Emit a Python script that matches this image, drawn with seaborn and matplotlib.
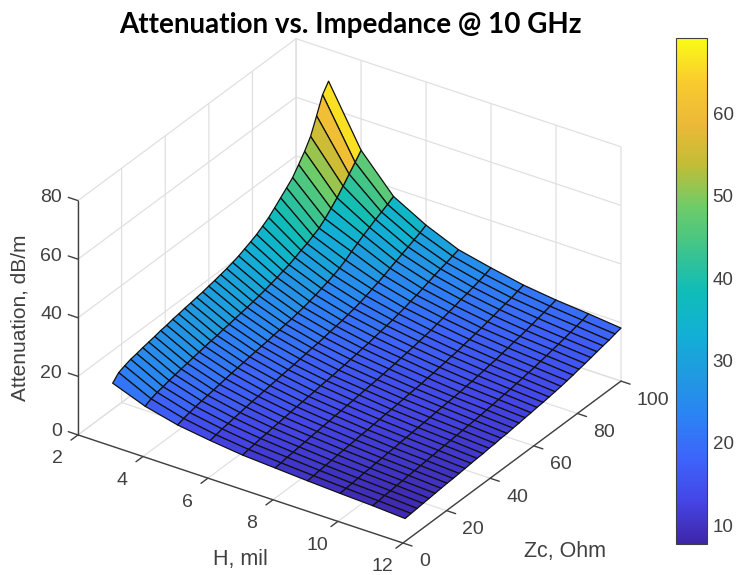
import numpy as np
import seaborn as sns
import matplotlib
matplotlib.use('Agg')
import matplotlib.pyplot as plt
from matplotlib.colors import Normalize
from matplotlib.cm import ScalarMappable
from mpl_toolkits.mplot3d import proj3d

# Grid
h_mil = [3, 4, 5, 6, 7, 8, 9, 10, 11, 12]
zc_ohm = [1, 3.75, 6.5, 9.25, 12, 14.75, 17.5, 20.25, 23, 25.75, 28.5, 31.25, 34, 36.75, 39.5, 42.25, 45, 47.75, 50.5,
          53.25, 56, 58.75, 61.5, 64.25, 67, 69.75, 72.5, 75.25, 78, 80.75, 83.5, 86.25, 89, 91.75, 94.5, 97.25, 100]

# Attenuation along each H line, going up in Zc
att_h3 = [20.8, 22.9, 23.7, 24.4, 24.8, 25.3, 25.7, 26.1, 26.6, 26.9, 27.4, 27.7, 28.1, 28.4, 28.8, 29.1, 29.6, 30.0, 30.5,
          31.0, 31.6, 32.3, 33.2, 34.1, 35.1, 36.4, 37.8, 39.6, 41.5, 43.4, 45.4, 48.3, 51.3, 54.9, 60.4, 66.1, 69.2]
att_h4 = [16.6, 17.6, 18.3, 18.7, 19.3, 19.7, 20.2, 20.6, 21.0, 21.4, 21.8, 22.2, 22.5, 23.0, 23.3, 23.7, 24.1, 24.5, 24.9,
          25.4, 25.9, 26.5, 27.1, 27.8, 28.4, 29.3, 30.3, 31.1, 32.2, 33.3, 35.0, 37.0, 39.1, 41.6, 44.2, 46.7, 49.3]
att_h5 = [13.9, 14.6, 15.1, 15.6, 16.0, 16.4, 16.7, 17.1, 17.5, 17.9, 18.2, 18.5, 18.9, 19.2, 19.5, 19.8, 20.2, 20.5, 20.9,
          21.2, 21.7, 22.1, 22.7, 23.3, 24.0, 24.7, 25.5, 26.4, 27.6, 29.0, 30.3, 31.6, 32.7, 33.9, 34.9, 36.0, 37.2]
att_h6 = [12.3, 12.7, 13.2, 13.5, 13.9, 14.2, 14.6, 14.9, 15.2, 15.5, 15.8, 16.1, 16.4, 16.7, 16.9, 17.3, 17.6, 18.0, 18.2,
          18.6, 19.0, 19.4, 19.8, 20.3, 20.8, 21.4, 22.1, 22.9, 23.7, 24.5, 25.5, 26.4, 27.3, 28.2, 29.1, 30.0, 31.1]
att_h7 = [11.0, 11.4, 11.7, 12.1, 12.3, 12.7, 12.9, 13.2, 13.5, 13.8, 14.0, 14.3, 14.5, 14.9, 15.1, 15.3, 15.7, 15.9, 16.3,
          16.6, 17.0, 17.3, 17.8, 18.2, 18.7, 19.1, 19.7, 20.2, 20.9, 21.5, 22.2, 23.0, 23.7, 24.4, 25.0, 25.7, 26.4]
att_h8 = [10.3, 10.5, 10.9, 11.1, 11.4, 11.6, 11.9, 12.1, 12.4, 12.6, 12.9, 13.1, 13.4, 13.6, 13.9, 14.1, 14.4, 14.6, 14.9,
          15.2, 15.5, 15.9, 16.2, 16.6, 17.0, 17.4, 17.8, 18.4, 18.9, 19.5, 20.0, 20.7, 21.2, 21.8, 22.4, 23.1, 23.9]
att_h9 = [9.6, 9.8, 10.1, 10.3, 10.5, 10.8, 11.0, 11.2, 11.4, 11.7, 11.8, 12.1, 12.3, 12.6, 12.7, 13.0, 13.2, 13.5, 13.7,
          13.9, 14.3, 14.5, 14.9, 15.2, 15.6, 15.9, 16.4, 16.8, 17.3, 17.7, 18.3, 18.8, 19.4, 19.9, 20.4, 21.1, 21.7]
att_h10 = [9.0, 9.2, 9.4, 9.6, 9.9, 10.0, 10.3, 10.4, 10.7, 10.8, 11.1, 11.3, 11.5, 11.7, 11.9, 12.1, 12.4, 12.6, 12.8,
           13.0, 13.2, 13.6, 13.8, 14.2, 14.5, 14.9, 15.2, 15.7, 16.1, 16.6, 17.0, 17.5, 18.0, 18.6, 19.1, 19.7, 20.3]
att_h11 = [8.5, 8.6, 8.9, 9.0, 9.3, 9.4, 9.7, 9.8, 10.0, 10.2, 10.4, 10.6, 10.8, 11.0, 11.2, 11.4, 11.6, 11.8, 12.0,
           12.3, 12.5, 12.8, 13.1, 13.3, 13.7, 14.0, 14.4, 14.7, 15.2, 15.6, 16.1, 16.5, 17.0, 17.5, 18.1, 18.6, 19.3]
att_h12 = [7.8, 8.0, 8.2, 8.4, 8.6, 8.8, 9.0, 9.2, 9.3, 9.5, 9.7, 9.9, 10.1, 10.2, 10.5, 10.6, 10.9, 11.0, 11.3,
           11.5, 11.8, 12.0, 12.3, 12.5, 12.8, 13.1, 13.4, 13.8, 14.2, 14.7, 15.1, 15.6, 16.1, 16.6, 17.0, 17.6, 18.1]

# Ticks
h_ticks = [2, 4, 6, 8, 10, 12]
zc_ticks = [0, 20, 40, 60, 80, 100]
att_ticks = [0, 20, 40, 60, 80]
bar_ticks = [10, 20, 30, 40, 50, 60]

# Colours of the colorbar, bottom to top
bar_colors = ['#3E26A8', '#4545E6', '#3D64FA', '#2C82F5', '#209AE0', '#12B0D5', '#10BDB8',
              '#3EC48C', '#6ECC68', '#C2BD36', '#EDB938', '#FACB2E', '#F9FB15']
color_min = 7.7
color_max = 69.2

sns.set_theme(style='white')
plt.rcParams['font.family'] = ['Liberation Sans', 'DejaVu Sans']
text_grey = '#404040'

parula = sns.blend_palette(bar_colors, n_colors=256, as_cmap=True)
norm = Normalize(color_min, color_max)

attenuation = np.array([att_h3, att_h4, att_h5, att_h6, att_h7, att_h8, att_h9, att_h10, att_h11, att_h12]).T
X, Y = np.meshgrid(h_mil, zc_ohm)

# Big axes so nothing gets clipped by the axes patch
fig = plt.figure(figsize=(7.36, 5.75), dpi=100)
ax = fig.add_axes([-0.1, -0.2, 1.2, 1.4], projection='3d')
ax.set_proj_type('ortho')
ax.view_init(elev=29.8, azim=-56.2)
ax.set_facecolor('none')

ax.plot_surface(X, Y, attenuation, facecolors=parula(norm(attenuation)), edgecolor='#111111', linewidth=0.9,
                shade=False, rstride=1, cstride=1, antialiased=True)

ax.set_xlim(2, 12)
ax.set_ylim(0, 100)
ax.set_zlim(0, 80)
ax.set_xticks(h_ticks)
ax.set_yticks(zc_ticks)
ax.set_zticks(att_ticks)

# MATLAB look: white walls, light grid. Axis lines, ticks and labels are done below
for axis in [ax.xaxis, ax.yaxis, ax.zaxis]:
    axis.pane.set_facecolor((1, 1, 1, 0))
    axis.pane.set_edgecolor((1, 1, 1, 0))
    axis.line.set_color((1, 1, 1, 0))
    axis._axinfo['grid'].update(color='#e0e0e0', linewidth=0.9)
    axis._axinfo['tick'].update(inward_factor=0.0, outward_factor=0.0)
    axis.set_major_formatter(plt.NullFormatter())
    for tick in axis.get_major_ticks():
        tick.label1.set_visible(False)
        tick.label2.set_visible(False)
ax.grid(True)

line_style = dict(color=text_grey, linewidth=1.0)
ax.plot([2, 12], [0, 0], [0, 0], **line_style)
ax.plot([12, 12], [0, 100], [0, 0], **line_style)
ax.plot([2, 2], [0, 0], [0, 80], **line_style)
for h in h_ticks:
    ax.plot([h, h], [0, -3.2], [0, 0], **line_style)
for zc in zc_ticks:
    ax.plot([12, 12.28], [zc, zc], [0, 0], **line_style)
for att in att_ticks:
    ax.plot([2, 1.7], [0, 0], [att, att], **line_style)


def to_pixels(xs, ys, zs):
    ax.apply_aspect()
    px, py, _ = proj3d.proj_transform(np.array(xs, dtype=float), np.array(ys, dtype=float), np.array(zs, dtype=float),
                                      ax.get_proj())
    return ax.transData.transform(np.c_[px, py])


# Scale and shift the box so the floor lands where it is in the picture
target = np.array([[78, 575 - 435], [403, 575 - 543], [621, 575 - 381], [296, 575 - 273]], dtype=float)
aspect = (391, 392, 270)
ax.set_box_aspect(aspect, zoom=1)
now = to_pixels([2, 12, 12, 2], [0, 0, 100, 100], [0, 0, 0, 0])
zoom = np.ptp(target[:, 0]) / np.ptp(now[:, 0])
ax.set_box_aspect(aspect, zoom=zoom)
now = to_pixels([2, 12, 12, 2], [0, 0, 100, 100], [0, 0, 0, 0])
shift = (target - now).mean(axis=0)
pos = ax.get_position()
ax.set_position([pos.x0 + shift[0] / 736, pos.y0 + shift[1] / 575, pos.width, pos.height])


# Tick labels as plain figure text, next to where the tick lands on screen
def tick_label(x, y, z, s, ha):
    p = to_pixels([x], [y], [z])[0]
    fig.text(p[0] / 736, p[1] / 575, s, fontsize=14, color=text_grey, ha=ha, va='center')


for h in h_ticks:
    tick_label(h + 0.24, -13.2, 0, str(h), 'center')
for zc in zc_ticks:
    tick_label(12.883, zc - 5.84, 0, str(zc), 'left')
for att in att_ticks:
    tick_label(1.575, -0.988, att, str(att), 'right')

# Colorbar
cax = fig.add_axes([676 / 736, 1 - 544 / 575, 31 / 736, (544 - 38) / 575])
cbar = fig.colorbar(ScalarMappable(norm=norm, cmap=parula), cax=cax)
cbar.set_ticks(bar_ticks)
cax.tick_params(axis='y', direction='in', length=5, width=0.8, labelsize=13.5, labelcolor=text_grey, color=text_grey,
                pad=4, right=True, left=False)
cbar.outline.set_edgecolor(text_grey)
cbar.outline.set_linewidth(0.8)

# Title and axis labels
fig.text(350 / 736, 1 - 25 / 575, 'Attenuation vs. Impedance @ 10 GHz', family=['Lato', 'DejaVu Sans'], weight='bold',
         fontsize=20, color='black', ha='center', va='center')
fig.text(20 / 736, 1 - 318 / 575, 'Attenuation, dB/m', rotation=90, fontsize=15, color=text_grey, ha='center', va='center')
fig.text(240 / 736, 1 - 560 / 575, 'H, mil', fontsize=15.5, color=text_grey, ha='center', va='center')
fig.text(565 / 736, 1 - 552 / 575, 'Zc, Ohm', fontsize=15.5, color=text_grey, ha='center', va='center')

fig.savefig('out.png', dpi=100)
